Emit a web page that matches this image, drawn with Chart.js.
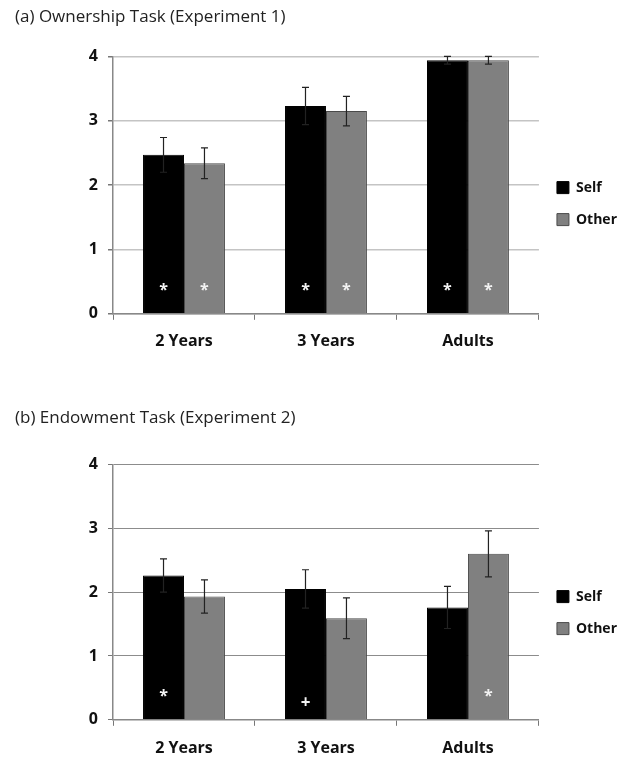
<!DOCTYPE html>
<html>
<head>
<meta charset="utf-8">
<script src="https://cdn.jsdelivr.net/npm/chart.js@4.4.1/dist/chart.umd.min.js"></script>
<style>
  html, body { margin: 0; padding: 0; background: #fff; overflow: hidden; }
  .panel { position: absolute; left: 0; width: 630px; }
</style>
</head>
<body>
<div class="panel" style="top:0; height:374px"><canvas id="ownership"></canvas></div>
<div class="panel" style="top:401px; height:376px"><canvas id="endowment"></canvas></div>
<script>
// categories and series
const categories = ["2 Years", "3 Years", "Adults"];
const seriesNames = ["Self", "Other"];
const yTicks = [0, 1, 2, 3, 4];

// (a) Ownership Task
const ownSelf = [2.47, 3.23, 3.94];
const ownSelfErr = [0.27, 0.29, 0.06];
const ownOther = [2.34, 3.15, 3.94];
const ownOtherErr = [0.24, 0.23, 0.06];
const ownSelfMarks = ["*", "*", "*"];
const ownOtherMarks = ["*", "*", "*"];

// (b) Endowment Task
const endSelf = [2.26, 2.05, 1.76];
const endSelfErr = [0.26, 0.30, 0.33];
const endOther = [1.93, 1.59, 2.60];
const endOtherErr = [0.26, 0.32, 0.36];
const endSelfMarks = ["*", "+", ""];
const endOtherMarks = ["", "", "*"];

const FONT = "'Open Sans', 'Noto Sans', sans-serif";

// error bars + significance marks drawn from the bar elements
const extrasPlugin = {
    id: "extras",
    afterDatasetsDraw(chart) {
        const ctx = chart.ctx;
        const yScale = chart.scales.y;
        chart.data.datasets.forEach((ds, di) => {
            const meta = chart.getDatasetMeta(di);
            meta.data.forEach((bar, i) => {
                const v = ds.data[i];
                const e = ds.errors[i];
                const yTop = yScale.getPixelForValue(v + e);
                const yBot = yScale.getPixelForValue(v - e);
                ctx.save();
                ctx.strokeStyle = "#222";
                ctx.lineWidth = 1.2;
                ctx.beginPath();
                ctx.moveTo(bar.x, yTop);
                ctx.lineTo(bar.x, yBot);
                ctx.moveTo(bar.x - 3.5, yTop);
                ctx.lineTo(bar.x + 3.5, yTop);
                ctx.moveTo(bar.x - 3.5, yBot);
                ctx.lineTo(bar.x + 3.5, yBot);
                ctx.stroke();

                const mark = ds.marks[i];
                if (mark) {
                    ctx.fillStyle = "#f2f2f2";
                    ctx.textAlign = "center";
                    ctx.textBaseline = "middle";
                    ctx.font = mark === "+" ? "bold 17px " + FONT : "bold 16px " + FONT;
                    const my = mark === "+" ? yScale.getPixelForValue(0.26) : yScale.getPixelForValue(0.36);
                    ctx.fillText(mark, bar.x, my);
                }
                ctx.restore();
            });
        });
    }
};

function makeChart(id, title, selfVals, selfErr, selfMarks, otherVals, otherErr, otherMarks, cfg) {
    const ctx = document.getElementById(id).getContext("2d");
    return new Chart(ctx, {
        type: "bar",
        data: {
            labels: categories,
            datasets: [{
                label: seriesNames[0],
                data: selfVals,
                errors: selfErr,
                marks: selfMarks,
                backgroundColor: "#000000",
                borderColor: "#000000",
                borderWidth: 1
            }, {
                label: seriesNames[1],
                data: otherVals,
                errors: otherErr,
                marks: otherMarks,
                backgroundColor: "#808080",
                borderColor: "#4a4a4a",
                borderWidth: 1
            }]
        },
        options: {
            responsive: true,
            maintainAspectRatio: false,
            animation: false,
            categoryPercentage: 0.577,
            barPercentage: 1,
            layout: { padding: { left: 15, right: 3, top: 0, bottom: cfg.padBottom } },
            scales: {
                x: {
                    grid: { drawOnChartArea: false, drawTicks: true, tickLength: 6, tickColor: "#777", offset: true },
                    border: { display: true, color: "#888", width: 1.5 },
                    ticks: { color: "#111", padding: cfg.xPad, font: { family: FONT, size: 16, weight: "bold" } }
                },
                y: {
                    min: 0,
                    max: 4,
                    afterFit(scale) { scale.width = 98; },
                    afterBuildTicks(scale) { scale.ticks = yTicks.map(v => ({ value: v })); },
                    grid: { color: cfg.gridColor, lineWidth: cfg.gridWidth, drawTicks: true, tickLength: 5, tickColor: "#777" },
                    border: { display: true, color: "#888", width: 1.5 },
                    ticks: { color: "#111", padding: 10, font: { family: FONT, size: 16, weight: "bold" } }
                }
            },
            plugins: {
                title: {
                    display: true,
                    text: title,
                    align: "start",
                    color: "#222",
                    font: { family: FONT, size: 17, weight: "normal", lineHeight: 1.2 },
                    padding: { top: 7, bottom: cfg.titleBottom }
                },
                legend: {
                    display: true,
                    position: "right",
                    fullSize: false,
                    align: "center",
                    title: { display: true, text: "", font: { size: 10, lineHeight: 1 }, padding: { top: 0, bottom: cfg.legendShift } },
                    labels: {
                        color: "#111",
                        boxWidth: 12,
                        boxHeight: 12,
                        padding: 18,
                        font: { family: FONT, size: 14, weight: "bold" }
                    }
                },
                tooltip: { enabled: false }
            }
        },
        plugins: [extrasPlugin]
    });
}

makeChart("ownership", "(a) Ownership Task (Experiment 1)",
    ownSelf, ownSelfErr, ownSelfMarks, ownOther, ownOtherErr, ownOtherMarks,
    { titleBottom: 29, padBottom: 11, xPad: 12, gridColor: "#c4c4c4", gridWidth: 1.5, legendShift: 27 });

makeChart("endowment", "(b) Endowment Task (Experiment 2)",
    endSelf, endSelfErr, endSelfMarks, endOther, endOtherErr, endOtherMarks,
    { titleBottom: 36, padBottom: 6, xPad: 13, gridColor: "#8c8c8c", gridWidth: 1, legendShift: 31 });
</script>
</body>
</html>
